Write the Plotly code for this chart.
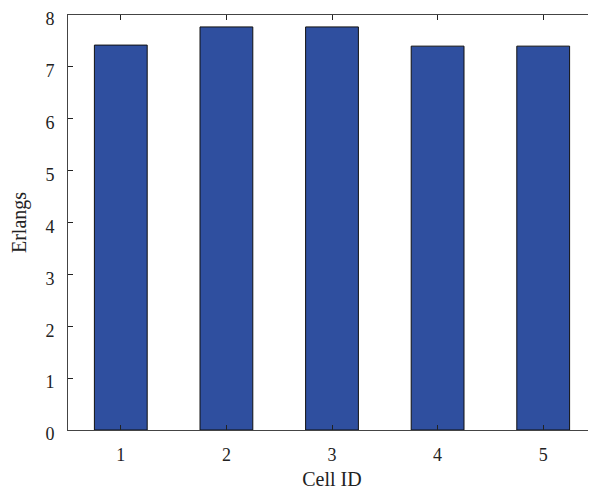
import plotly.graph_objects as go

cells = [1, 2, 3, 4, 5]
erlangs = [7.42, 7.77, 7.77, 7.40, 7.40]
y_ticks = [0, 1, 2, 3, 4, 5, 6, 7, 8]

font = "Liberation Serif, DejaVu Serif, serif"

fig = go.Figure(go.Bar(
    x=cells, y=erlangs, width=0.5,
    marker=dict(color="#2F4F9F", line=dict(color="#111111", width=1)),
))

axis_common = dict(
    showline=True, linecolor="#444444", linewidth=1, mirror="ticks",
    ticks="inside", ticklen=5, tickcolor="#222222", tickwidth=1,
    showgrid=False, zeroline=False, automargin=False,
    ticklabeloverflow="allow",
    tickfont=dict(family=font, size=18, color="#222222"),
)

fig.update_xaxes(range=[0.5, 5.5], tickvals=cells, ticklabelstandoff=8,
                 title=dict(text="Cell ID", font=dict(family=font, size=20, color="#222222"), standoff=8),
                 **axis_common)
fig.update_yaxes(range=[0, 8], tickvals=y_ticks, ticklabelstandoff=9, ticklabelshift=4,
                 title=dict(text="Erlangs", font=dict(family=font, size=20, color="#222222"), standoff=17),
                 **axis_common)

fig.update_layout(
    width=596, height=492,
    margin=dict(l=60, r=8, t=7, b=70),
    plot_bgcolor="white", paper_bgcolor="white",
    showlegend=False,
)

fig.write_html("out.html")
